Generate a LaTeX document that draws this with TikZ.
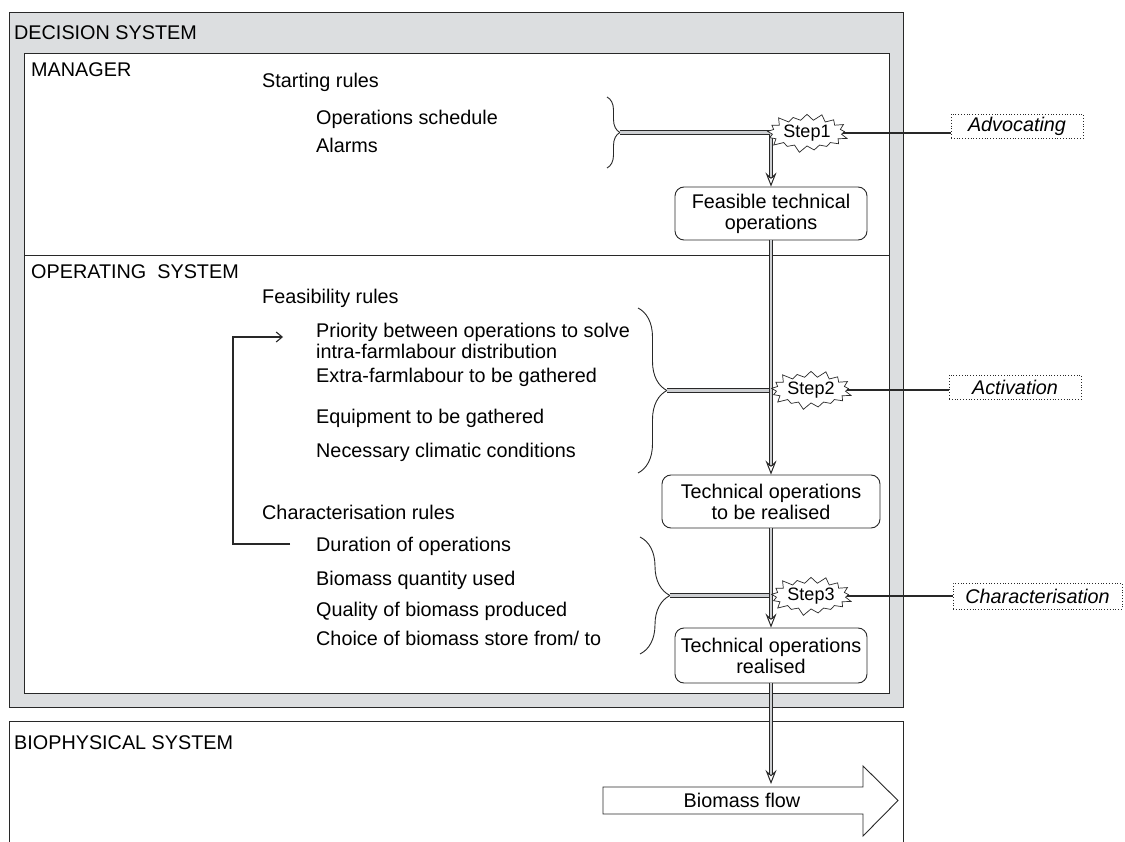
\documentclass[tikz,border=0pt]{standalone}
\usepackage{fontspec}
\setmainfont{Liberation Sans}
\usetikzlibrary{arrows.meta,shapes.symbols,decorations.pathreplacing}
\definecolor{lc}{RGB}{40,40,40}
\definecolor{band}{RGB}{220,222,224}
\definecolor{dblfill}{RGB}{205,207,210}
\begin{document}
\begin{tikzpicture}[x=1pt,y=-1pt,
  font=\fontsize{19.8}{21}\selectfont,
  txt/.style={anchor=base west, inner sep=0pt},
  sysbox/.style={draw=lc, line width=0.9pt},
  opbox/.style={draw=lc, line width=0.9pt, rounded corners=9pt, fill=white, align=center, inner sep=0pt},
  burst/.style={starburst, draw=lc, fill=white, line width=0.7pt, starburst points=17, starburst point height=8pt, minimum width=76pt, minimum height=35pt, inner sep=1pt, font=\fontsize{18}{18}\selectfont},
  lab/.style={draw=lc, dotted, line width=0.8pt, font=\fontsize{19.8}{21}\selectfont\itshape, inner sep=0pt},
  dbl/.style={draw=lc, line width=1pt, double=dblfill, double distance=2.4pt},
  dblarrow/.style={dbl, -{Stealth[open, length=14pt, width=11pt, inset=5pt]}},
  brc/.style={draw=lc, line width=0.9pt, decorate, decoration={brace, amplitude=#1}},
  fb/.style={draw=lc, line width=1.1pt, -{Straight Barb[length=6pt, width=10pt]}},
  link/.style={draw=lc, line width=1.1pt},
]
\useasboundingbox (0,0) rectangle (1125,842);

% system boxes
\draw[sysbox, fill=band] (9,12) rectangle (903,707);
\draw[sysbox, fill=white] (24,53) rectangle (889,255);
\draw[sysbox, fill=white] (24,255) rectangle (889,693);
\draw[sysbox, fill=white] (9,721) rectangle (903,860);

% titles
\node[txt] (tdec) at (14,40) {DECISION SYSTEM};
\node[txt] (tman) at (31,77) {MANAGER};
\node[txt] (tops) at (31,279) {OPERATING~ SYSTEM};
\node[txt] (tbio) at (14,749) {BIOPHYSICAL SYSTEM};

% rules
\node[txt] (rstart) at (262,88) {Starting rules};
\node[txt] (r11) at (316,125) {Operations schedule};
\node[txt] (r12) at (316,153) {Alarms};

\node[txt] (rfeas) at (262,304) {Feasibility rules};
\node[txt] (r21) at (316,338) {Priority between operations to solve};
\node[txt] (r21b) at (316,359) {intra-farmlabour distribution};
\node[txt] (r22) at (316,383) {Extra-farmlabour to be gathered};
\node[txt] (r23) at (316,423) {Equipment to be gathered};
\node[txt] (r24) at (316,457) {Necessary climatic conditions};

\node[txt] (rchar) at (262,519) {Characterisation rules};
\node[txt] (r31) at (316,551) {Duration of operations};
\node[txt] (r32) at (316,585) {Biomass quantity used};
\node[txt] (r33) at (316,616) {Quality of biomass produced};
\node[txt] (r34) at (316,645) {Choice of biomass store from/ to};

% braces
\draw[brc=13pt] (607,97) -- (607,168);
\draw[brc=29pt] (638,308) -- (638,473);
\draw[brc=30pt] (640,537) -- (640,654);
\coordinate (br1) at (620,132.5);
\coordinate (br2) at (667,390.5);
\coordinate (br3) at (670,595.5);

% operation boxes
\node[opbox, minimum width=192pt, minimum height=53pt] (b1) at (771,213.5) {Feasible technical\\operations};
\node[opbox, minimum width=218pt, minimum height=53pt] (b2) at (771,501.5) {Technical operations\\to be realised};
\node[opbox, minimum width=192pt, minimum height=55pt] (b3) at (771,655.5) {Technical operations\\realised};

% biomass flow
\draw[draw=lc, line width=0.9pt, fill=white] (603,787) -- (863,787) -- (863,766) -- (898,800.5) -- (863,836) -- (863,814) -- (603,814) -- cycle;
\node (bio) at (742,800.5) {Biomass flow};
\coordinate (biotop) at (771,784);

% double connectors
\draw[dblarrow] (br1) -- (br1 -| b1.north) -- (b1.north);
\draw[dbl] (br2) -- (br2 -| b1.south);
\draw[dblarrow] (b1.south) -- (b2.north);
\draw[dbl] (br3) -- (br3 -| b2.south);
\draw[dblarrow] (b2.south) -- (b3.north);
\draw[dblarrow] (b3.south) -- (biotop);

% feedback
\coordinate (fbs) at (290,544);
\coordinate (fbe) at (283,337);
\draw[fb] (fbs) -- ++(-57,0) |- (fbe);

% steps
\node[burst] (s1) at (807,133) {Step1};
\node[burst] (s2) at (811,390) {Step2};
\node[burst] (s3) at (811,596) {Step3};

% labels
\node[lab, minimum width=132pt, minimum height=24pt] (adv) at (1017,126) {Advocating};
\node[lab, minimum width=132pt, minimum height=24pt] (act) at (1015,387) {Activation};
\node[lab, minimum width=169pt, minimum height=26pt] (cha) at (1037.5,596) {Characterisation};

\draw[link] (s1.east) -- (s1.east -| adv.west);
\draw[link] (s2.east) -- (s2.east -| act.west);
\draw[link] (s3.east) -- (s3.east -| cha.west);
\end{tikzpicture}
\end{document}
